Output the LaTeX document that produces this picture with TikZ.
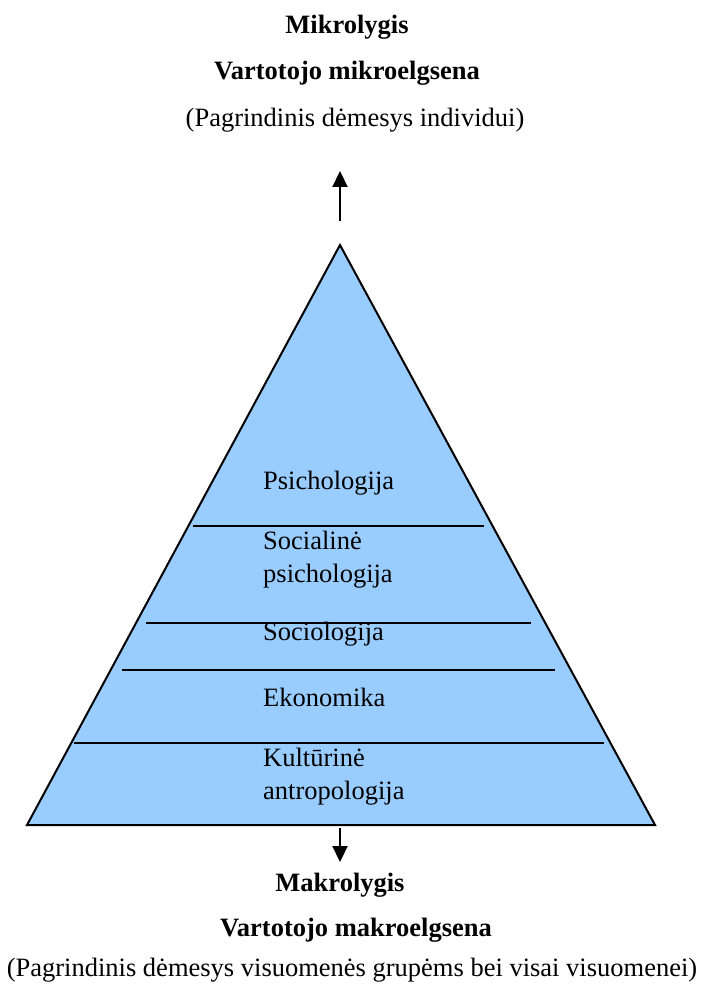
\documentclass[tikz,border=0pt]{standalone}
\usepackage{fontspec}
\setmainfont{Liberation Serif}
\usetikzlibrary{arrows.meta}
\definecolor{layerblue}{HTML}{99CCFF}
\begin{document}
\begin{tikzpicture}[x=1pt,y=-1pt,
  every node/.style={font=\fontsize{26.5}{33}\selectfont, inner sep=0pt},
  title/.style={font=\fontsize{26.5}{33}\selectfont\bfseries},
  layer/.style={anchor=west, align=left},
  sep/.style={line width=2pt},
  flow/.style={line width=2.2pt, -{Triangle[length=16pt,width=15pt]}}]
\useasboundingbox (0,0) rectangle (706,987);

% headings above the pyramid
\node[title] (mikro) at (347,27) {Mikrolygis};
\node[title] (mikroelg) at (347,73) {Vartotojo mikroelgsena};
\node (ind) at (355,120) {(Pagrindinis dėmesys individui)};

% pyramid
\draw[fill=layerblue, line width=2pt, line join=miter]
  (340,245) -- (655,825) -- (27,825) -- cycle;
\draw[sep] (193,526) -- (484,526);
\draw[sep] (146,623) -- (531,623);
\draw[sep] (122,670) -- (555,670);
\draw[sep] (74,743) -- (604,743);

% layer labels
\node[layer] (psi) at (263,483) {Psichologija};
\node[layer] (socpsi) at (263,560) {Socialinė\\psichologija};
\node[layer] (soc) at (263,634) {Sociologija};
\node[layer] (eko) at (263,697) {Ekonomika};
\node[layer] (kult) at (263,777) {Kultūrinė\\antropologija};

% direction arrows
\coordinate (upfrom) at (340,221);
\coordinate (upto) at (340,171);
\draw[flow] (upfrom) -- (upto);
\coordinate (downfrom) at (340,828);
\coordinate (downto) at (340,862);
\draw[flow] (downfrom) -- (downto);

% headings below the pyramid
\node[title] (makro) at (340,885) {Makrolygis};
\node[title] (makroelg) at (356,930) {Vartotojo makroelgsena};
\node (vis) at (352,970) {(Pagrindinis dėmesys visuomenės grupėms bei visai visuomenei)};
\end{tikzpicture}
\end{document}
